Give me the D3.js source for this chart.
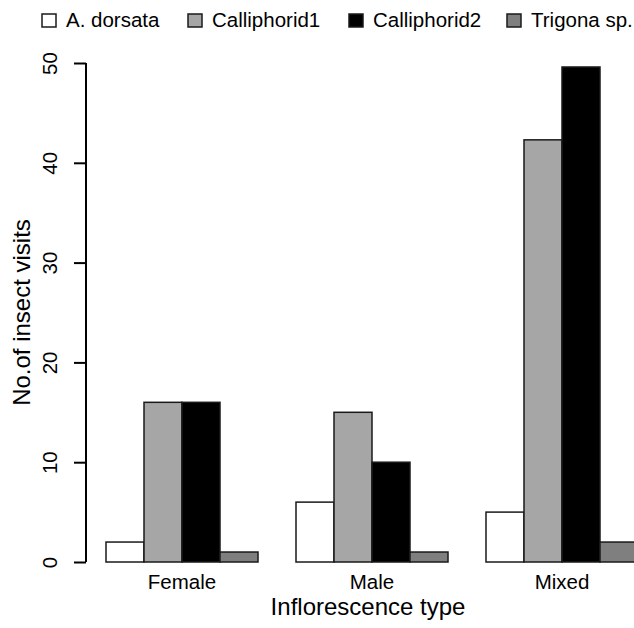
<!DOCTYPE html>
<meta charset="utf-8">
<style>

body {
  margin: 0;
  font: 20.5px "Liberation Sans", Arial, Helvetica, sans-serif;
}

.bar {
  stroke: #1a1a1a;
  stroke-width: 1.5px;
}

.title {
  font-size: 24px;
}

</style>
<body>
<script src="https://d3js.org/d3.v7.js"></script>
<script>

var groups = ["Female", "Male", "Mixed"];

var insects = ["A. dorsata", "Calliphorid1", "Calliphorid2", "Trigona sp."];

var adorsata = [2, 6, 5];
var calliphorid1 = [16, 15, 42.3];
var calliphorid2 = [16, 10, 49.6];
var trigona = [1, 1, 2];

var yTicks = [0, 10, 20, 30, 40, 50];

var fills = ["#ffffff", "#a6a6a6", "#000000", "#7f7f7f"];

var width = 634;
var height = 628;

var series = [adorsata, calliphorid1, calliphorid2, trigona];

var data = groups.map((g, i) => ({
  group: g,
  values: insects.map((name, j) => ({name: name, idx: j, value: series[j][i]}))
}));

var xGroup = d3.scaleBand()
    .domain(groups)
    .range([106, 638])
    .paddingInner(0.2)
    .paddingOuter(0);

var xInner = d3.scaleBand()
    .domain(insects)
    .range([0, xGroup.bandwidth()]);

var yScale = d3.scaleLinear()
    .domain([0, 50])
    .range([562, 63]);

var svg = d3.select("body").append("svg")
    .attr("width", width)
    .attr("height", height)
    .style("display", "block")
    .style("background", "#fff");

// bars
svg.selectAll("g.group")
    .data(data)
    .enter()
  .append("g")
    .attr("class", "group")
    .attr("transform", d => `translate(${xGroup(d.group)},0)`)
  .selectAll("rect")
    .data(d => d.values)
    .enter()
  .append("rect")
    .attr("class", "bar")
    .attr("x", d => xInner(d.name))
    .attr("width", xInner.bandwidth())
    .attr("y", d => yScale(d.value))
    .attr("height", d => yScale(0) - yScale(d.value))
    .attr("fill", d => fills[d.idx]);

// y axis, R style
var yAxis = d3.axisLeft(yScale)
    .tickValues(yTicks)
    .tickSize(12)
    .tickSizeOuter(0);

var gy = svg.append("g")
    .attr("transform", "translate(86,0)")
    .call(yAxis);

gy.select(".domain")
    .attr("stroke", "#000")
    .attr("stroke-width", 2)
    .attr("d", `M0,${yScale(0)}V${yScale(50)}`);

gy.selectAll(".tick line")
    .attr("stroke", "#000")
    .attr("stroke-width", 2);

gy.selectAll(".tick text")
    .attr("font-size", 20.5)
    .attr("font-family", "Liberation Sans, Arial, sans-serif")
    .attr("fill", "#000")
    .attr("text-anchor", "middle")
    .attr("dy", null)
    .attr("x", null)
    .attr("transform", "translate(-29,0) rotate(-90)");

// x group labels
svg.selectAll("text.xlab")
    .data(groups)
    .enter()
  .append("text")
    .attr("class", "xlab")
    .attr("x", d => xGroup(d) + xGroup.bandwidth() / 2)
    .attr("y", 589)
    .attr("text-anchor", "middle")
    .text(d => d);

// axis titles
svg.append("text")
    .attr("class", "title")
    .attr("x", 368)
    .attr("y", 615)
    .attr("text-anchor", "middle")
    .text("Inflorescence type");

svg.append("text")
    .attr("class", "title")
    .attr("transform", `translate(30,${yScale(25)}) rotate(-90)`)
    .attr("text-anchor", "middle")
    .text("No.of insect visits");

// legend
var legendX = [42, 188, 349, 507];

var legend = svg.selectAll("g.legend")
    .data(insects)
    .enter()
  .append("g")
    .attr("class", "legend")
    .attr("transform", (d, i) => `translate(${legendX[i]},14)`);

legend.append("rect")
    .attr("width", 14)
    .attr("height", 13)
    .attr("fill", (d, i) => fills[i])
    .attr("stroke", "#1a1a1a")
    .attr("stroke-width", 1.5);

legend.append("text")
    .attr("x", 24)
    .attr("y", 13)
    .text(d => d);

</script>
